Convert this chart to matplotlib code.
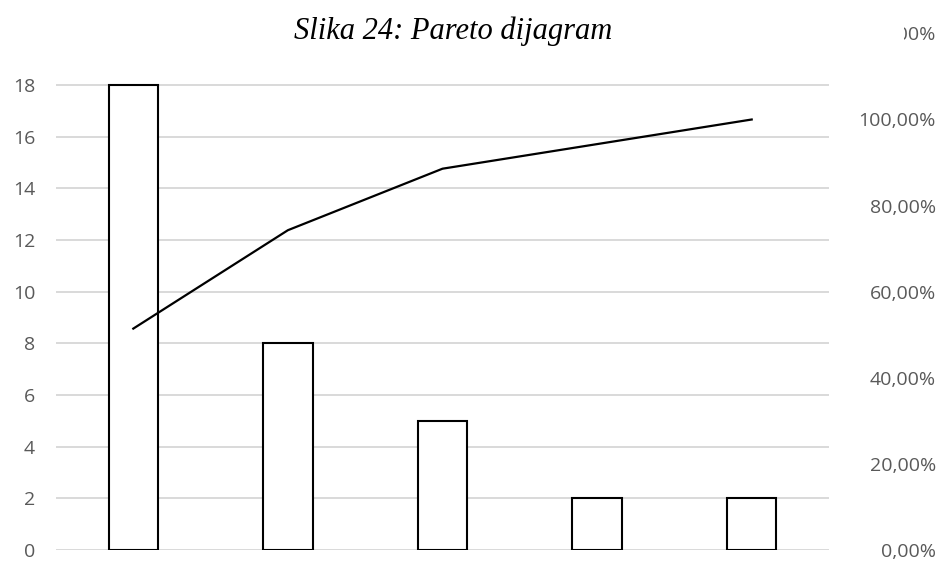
import numpy as np
import matplotlib.pyplot as plt
from matplotlib.patches import Rectangle

# Pareto data
categories = ['A', 'B', 'C', 'D', 'E']
counts = [18, 8, 5, 2, 2]
left_ticks = [0, 2, 4, 6, 8, 10, 12, 14, 16, 18]
right_ticks = [0.0, 0.2, 0.4, 0.6, 0.8, 1.0, 1.2]
right_labels = ['0,00%', '20,00%', '40,00%', '60,00%', '80,00%', '100,00%', '120,00%']

cumulative = np.cumsum(counts) / np.sum(counts)

W, H = 938, 561
fig = plt.figure(figsize=(W / 100, H / 100), dpi=100)
ax = fig.add_axes([56 / W, 11 / H, (829 - 56) / W, (550 - 33.4) / H])

x = np.arange(len(categories))
ax.bar(x, counts, width=0.32, color='white', edgecolor='black', linewidth=1.5, zorder=3)
ax.set_xlim(-0.5, len(categories) - 0.5)
ax.set_ylim(0, 20)
ax.set_yticks(left_ticks)
ax.set_xticks([])
ax.grid(axis='y', color='#d9d9d9', linewidth=1.4, zorder=0)
ax.tick_params(axis='y', length=0, pad=15, labelsize=14, labelcolor='#595959')
for s in ax.spines.values():
    s.set_visible(False)

ax2 = ax.twinx()
ax2.plot(x, cumulative, color='black', linewidth=1.6, zorder=4)
ax2.set_ylim(0, 1.2)
ax2.set_yticks(right_ticks)
ax2.set_yticklabels(right_labels)
ax2.tick_params(axis='y', length=0, pad=77, labelsize=14, labelcolor='#595959')
for lab in ax2.get_yticklabels():
    lab.set_horizontalalignment('right')
for s in ax2.spines.values():
    s.set_visible(False)

for a in (ax, ax2):
    for lab in a.get_yticklabels():
        lab.set_fontfamily('Open Sans')

fig.text(453 / W, 1 - 31 / H, 'Slika 24: Pareto dijagram', ha='center', va='center',
         fontsize=22, style='italic', family='Liberation Serif')

# the top right label is cut off in the original
fig.add_artist(Rectangle((835 / W, 1 - 50 / H), 69 / W, 35 / H, transform=fig.transFigure,
                         facecolor='white', edgecolor='none', zorder=10))

fig.savefig('out.png', dpi=100)
